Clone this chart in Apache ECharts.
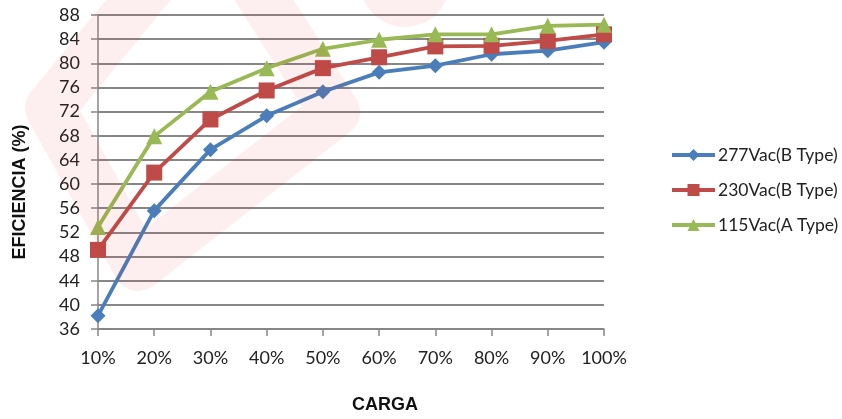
<!DOCTYPE html>
<html>
<head>
<meta charset="utf-8">
<script src="https://cdn.jsdelivr.net/npm/echarts@6/dist/echarts.min.js"></script>
<style>
  html, body { margin: 0; padding: 0; background: #fff; }
  #chart { width: 842px; height: 419px; }
</style>
</head>
<body>
<div id="chart"></div>
<script>
const categories = ['10%', '20%', '30%', '40%', '50%', '60%', '70%', '80%', '90%', '100%'];
const v277 = [38.2, 55.6, 65.7, 71.3, 75.3, 78.5, 79.6, 81.5, 82.1, 83.5];
const v230 = [49.1, 61.9, 70.7, 75.5, 79.2, 81.0, 82.8, 82.9, 83.7, 84.8];
const v115 = [52.9, 67.9, 75.3, 79.2, 82.4, 83.9, 84.8, 84.8, 86.2, 86.4];

const labelFont = 'Lato, "Open Sans", sans-serif';
const titleFont = '"Liberation Sans", Arial, sans-serif';
const gridColor = '#878787';
const watermark = 'rgba(232, 40, 40, 0.075)';

const myChart = echarts.init(document.getElementById('chart'));

function line(name, data, color, symbol, size) {
    return {
        name: name,
        type: 'line',
        data: data,
        symbol: symbol,
        symbolSize: size,
        lineStyle: { color: color, width: 3.8 },
        itemStyle: { color: color },
        emphasis: { disabled: true }
    };
}

const option = {
    animation: false,
    color: ['#4A7EBB', '#BE4B48', '#98B954'],
    textStyle: { fontFamily: labelFont },
    grid: { left: 98, right: 238, top: 15, bottom: 89 },
    // faint logo watermark
    graphic: [
        {
            type: 'polyline',
            silent: true,
            z: 100,
            shape: { points: [[175, -45], [50, 108], [138, 266], [335, 112], [245, -30]] },
            style: { fill: null, stroke: watermark, lineWidth: 50, lineJoin: 'round', lineCap: 'round' }
        },
        {
            type: 'circle',
            silent: true,
            z: 100,
            shape: { cx: 405, cy: -18, r: 45 },
            style: { fill: watermark }
        }
    ],
    legend: {
        orient: 'vertical',
        left: 665,
        top: 141,
        itemGap: 17,
        itemWidth: 43,
        itemHeight: 15,
        lineStyle: { width: 4 },
        textStyle: { fontSize: 17.5, color: '#222', fontFamily: labelFont, padding: [0, 0, 0, -2] },
        data: ['277Vac(B Type)', '230Vac(B Type)', '115Vac(A Type)']
    },
    xAxis: {
        type: 'category',
        data: categories,
        boundaryGap: false,
        name: 'CARGA',
        nameLocation: 'middle',
        nameGap: 67,
        nameTextStyle: { fontFamily: titleFont, fontWeight: 'bold', fontSize: 18, color: '#111', padding: [0, 0, 0, 68] },
        axisLine: { lineStyle: { color: gridColor, width: 1.5 } },
        axisTick: { alignWithLabel: true, interval: 0, length: 7, lineStyle: { color: gridColor, width: 1.5 } },
        axisLabel: { interval: 0, fontSize: 18, color: '#222', margin: 20 }
    },
    yAxis: {
        type: 'value',
        min: 36,
        max: 88,
        interval: 4,
        name: 'EFICIENCIA (%)',
        nameLocation: 'middle',
        nameGap: 69,
        nameRotate: 90,
        nameTextStyle: { fontFamily: titleFont, fontWeight: 'bold', fontSize: 18, color: '#111', padding: [0, 40, 0, 0] },
        axisLine: { show: true, lineStyle: { color: gridColor, width: 1.5 } },
        axisTick: { show: true, length: 7, lineStyle: { color: gridColor, width: 1.5 } },
        axisLabel: { fontSize: 18, color: '#222', margin: 18 },
        splitLine: { lineStyle: { color: gridColor, width: 2 } }
    },
    series: [
        line('277Vac(B Type)', v277, '#4A7EBB', 'diamond', 15),
        line('230Vac(B Type)', v230, '#BE4B48', 'rect', 16),
        line('115Vac(A Type)', v115, '#98B954', 'triangle', 16)
    ]
};

myChart.setOption(option);
window.onresize = myChart.resize;
</script>
</body>
</html>
